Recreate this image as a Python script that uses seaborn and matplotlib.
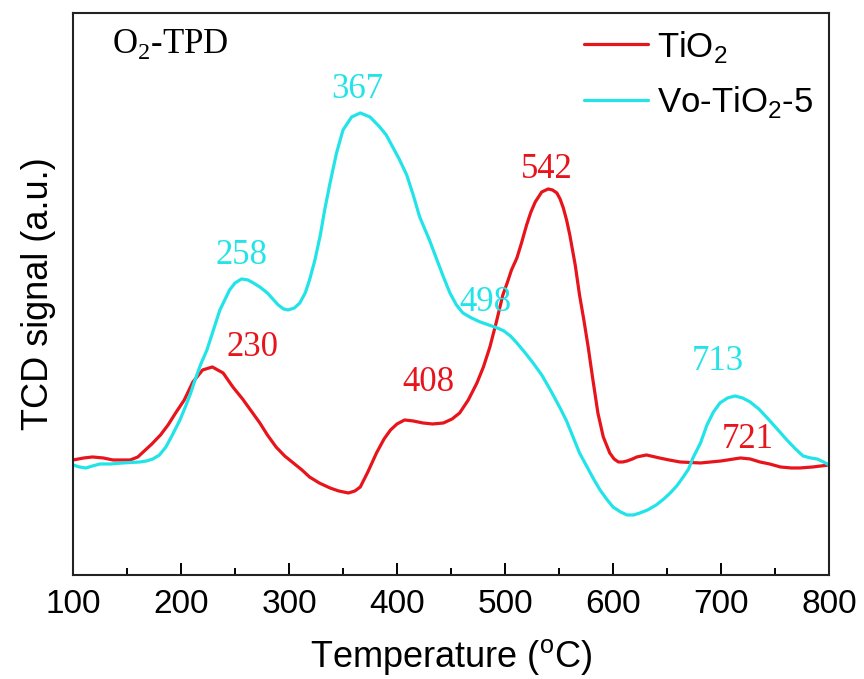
import matplotlib
matplotlib.use("Agg")
import matplotlib.pyplot as plt
from matplotlib.ticker import MultipleLocator
import pandas as pd
import seaborn as sns

# O2-TPD profiles (temperature in °C, TCD signal in arbitrary units)
tio2_temp = [100, 110, 118, 128, 137, 153, 160, 165, 173, 181, 188, 195, 203, 211, 220,
             229, 239, 248, 257, 265, 273, 280, 288, 296, 304, 312, 319, 328, 338, 346,
             355, 361, 366, 373, 381, 388, 394, 400, 407, 415, 424, 433, 443, 451, 458,
             466, 474, 480, 486, 492, 498, 502, 506, 511, 515, 520, 524, 528, 534, 540,
             544, 548, 551, 554, 557, 560, 565, 569, 573, 577, 581, 586, 591, 597, 601,
             605, 609, 613, 618, 622, 631, 643, 652, 662, 681, 700, 718, 727, 736, 745,
             755, 765, 773, 785, 800]
tio2_signal = [115, 117, 118, 117, 115, 115, 118, 123, 131, 140, 150, 162, 175, 193, 205,
               208, 202, 188, 176, 164, 152, 140, 128, 119, 112, 105, 98, 92, 87, 84,
               82, 84, 88, 103, 122, 136, 145, 151, 155, 154, 152, 151, 152, 156, 162,
               175, 192, 208, 228, 253, 280, 292, 305, 317, 331, 350, 363, 373, 383, 386,
               385, 382, 376, 367, 355, 340, 310, 280, 255, 228, 198, 162, 138, 122, 116,
               113, 113, 114, 116, 118, 120, 117, 115, 113, 112, 114, 117, 116, 113, 111,
               108, 107, 107, 108, 110]

vo_temp = [100, 106, 112, 118, 125, 135, 146, 162, 168, 174, 180, 186, 192, 199, 204,
           209, 213, 218, 224, 230, 236, 245, 250, 256, 262, 267, 273, 280, 290, 295,
           299, 305, 310, 315, 319, 324, 329, 333, 338, 344, 350, 358, 366, 375, 384,
           390, 396, 402, 409, 415, 421, 430, 437, 443, 449, 455, 461, 469, 477, 485,
           493, 499, 505, 511, 518, 526, 534, 542, 551, 557, 563, 569, 576, 582, 588,
           594, 600, 607, 613, 619, 625, 632, 640, 647, 653, 659, 665, 670, 674, 681,
           687, 693, 699, 706, 713, 720, 727, 735, 742, 752, 761, 769, 776, 783, 789,
           795, 800]
vo_signal = [110, 108, 107, 109, 111, 111, 112, 113, 114, 116, 120, 128, 140, 155, 168,
             182, 195, 210, 225, 245, 265, 285, 292, 296, 295, 292, 288, 282, 270, 266,
             265, 267, 272, 282, 295, 315, 340, 365, 392, 422, 445, 458, 462, 458, 448,
             440, 428, 416, 400, 380, 358, 335, 315, 298, 282, 270, 262, 257, 253, 250,
             247, 244, 239, 232, 223, 212, 200, 185, 167, 154, 138, 122, 108, 96, 85,
             76, 68, 63, 60, 60, 62, 65, 70, 76, 82, 89, 98, 106, 117, 132,
             150, 163, 172, 177, 179, 177, 173, 166, 158, 146, 135, 126, 119, 117, 116,
             113, 110]

series_names = ["TiO$_\\mathsf{2}$", "Vo-TiO$_\\mathsf{2}$-5"]
series_colors = ["#E8141B", "#22E4E8"]

# peak annotations: label value, series index, horizontal offset, vertical position
peak_values = [230, 408, 542, 721, 258, 367, 498, 713]
peak_series = [0, 0, 0, 0, 1, 1, 1, 1]
peak_dx = [36, 21, -3, 4, -2, -4, -16, -16]
peak_y = [227, 192, 405, 135, 319, 485, 272, 213]

df = pd.concat([
    pd.DataFrame({"Temperature": tio2_temp, "Signal": tio2_signal, "Sample": series_names[0]}),
    pd.DataFrame({"Temperature": vo_temp, "Signal": vo_signal, "Sample": series_names[1]}),
])

sns.set_theme(style="white")
plt.rcParams["font.family"] = ["Liberation Sans", "DejaVu Sans"]
plt.rcParams["mathtext.fontset"] = "custom"
plt.rcParams["mathtext.rm"] = "Liberation Serif"
plt.rcParams["mathtext.sf"] = "Liberation Sans"
plt.rcParams["text.color"] = "black"
plt.rcParams["axes.labelcolor"] = "black"
plt.rcParams["xtick.color"] = "black"
plt.rcParams["xtick.labelcolor"] = "black"

fig = plt.figure(figsize=(8.64, 6.79), dpi=100)
ax = fig.add_axes([0.0845, 0.1532, 0.875, 0.8277])

sns.lineplot(data=df, x="Temperature", y="Signal", hue="Sample",
             palette=dict(zip(series_names, series_colors)),
             linewidth=2.3, ax=ax, sort=False)

ax.set_xlim(100, 800)
ax.set_ylim(0, 562)
ax.xaxis.set_major_locator(MultipleLocator(100))
ax.xaxis.set_minor_locator(MultipleLocator(50))
ax.set_yticks([])
ax.tick_params(axis="x", which="major", direction="in", length=9, width=1.4,
               labelsize=24, pad=10, bottom=True, top=False)
ax.tick_params(axis="x", which="minor", direction="in", length=5, width=1.4,
               bottom=True, top=False)
for sp in ax.spines.values():
    sp.set_color("#222222")
    sp.set_linewidth(1.5)

ax.set_xlabel("Temperature ($^{\\mathsf{o}}$C)", fontsize=26, labelpad=12)
ax.set_ylabel("TCD signal (a.u.)", fontsize=26, labelpad=12)

for v, s, dx, y in zip(peak_values, peak_series, peak_dx, peak_y):
    ax.text(v + dx, y, str(v), color=series_colors[s], fontsize=25,
            family="Liberation Serif", ha="center", va="center")

ax.text(0.052, 0.945, "O$_\\mathrm{2}$-TPD", transform=ax.transAxes, fontsize=25,
        family="Liberation Serif", ha="left", va="center", color="black")

leg = ax.legend(loc="upper right", frameon=False, fontsize=25, handlelength=1.85,
                handletextpad=0.25, labelspacing=0.55, borderaxespad=0.05,
                bbox_to_anchor=(1.0, 1.0))
for line in leg.get_lines():
    line.set_linewidth(2.3)

fig.savefig("out.png", dpi=100)
